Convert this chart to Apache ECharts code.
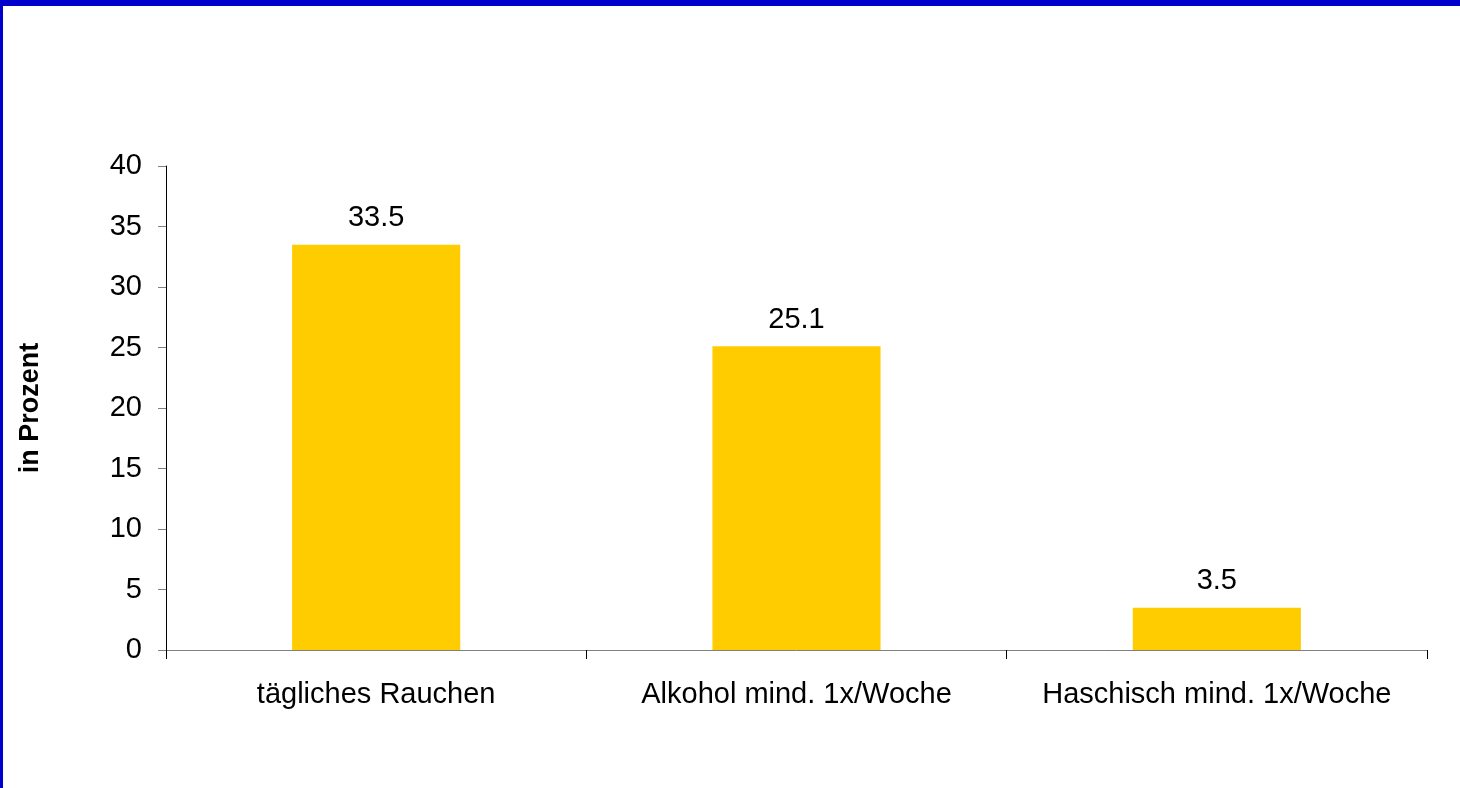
<!DOCTYPE html>
<html>
<head>
<meta charset="utf-8">
<title>Konsum in Prozent</title>
<script src="https://cdn.jsdelivr.net/npm/echarts@6/dist/echarts.min.js"></script>
<style>
  html, body { margin: 0; padding: 0; background: #ffffff; }
  #chart { width: 1460px; height: 788px; }
</style>
</head>
<body>
<div id="chart"></div>
<script>
// Categories and shares (in percent)
const categories = ['tägliches Rauchen', 'Alkohol mind. 1x/Woche', 'Haschisch mind. 1x/Woche'];
const values = [33.5, 25.1, 3.5];
const yTicks = { min: 0, max: 40, interval: 5 };
const yAxisTitle = 'in Prozent';

const font = 'Liberation Sans, Arial, sans-serif';
const chart = echarts.init(document.getElementById('chart'), null, { renderer: 'canvas' });

chart.setOption({
  backgroundColor: '#ffffff',
  animation: false,
  graphic: [
    { type: 'rect', left: 0, top: 0, shape: { width: 1460, height: 6 }, style: { fill: '#0000CC' } },
    { type: 'rect', left: 0, top: 0, shape: { width: 3, height: 788 }, style: { fill: '#0000CC' } }
  ],
  grid: { left: 166, right: 33, top: 166, bottom: 138, containLabel: false },
  xAxis: {
    type: 'category',
    data: categories,
    boundaryGap: true,
    axisLine: { show: true, lineStyle: { color: '#808080', width: 1 } },
    axisTick: { show: true, alignWithLabel: false, interval: 0, length: 9, inside: false, lineStyle: { color: '#000000' } },
    axisLabel: { color: '#000000', fontFamily: font, fontSize: 29, margin: 30, interval: 0 },
    splitLine: { show: false }
  },
  yAxis: {
    type: 'value',
    min: yTicks.min,
    max: yTicks.max,
    interval: yTicks.interval,
    name: yAxisTitle,
    nameLocation: 'middle',
    nameRotate: 90,
    nameGap: 122,
    nameTextStyle: { color: '#000000', fontFamily: font, fontSize: 27, fontWeight: 'bold' },
    axisLine: { show: true, lineStyle: { color: '#000000', width: 1 } },
    axisTick: { show: true, length: 8, lineStyle: { color: '#808080' } },
    axisLabel: { color: '#000000', fontFamily: font, fontSize: 29, margin: 24 },
    splitLine: { show: false }
  },
  series: [{
    type: 'bar',
    data: values,
    barWidth: '40%',
    itemStyle: { color: '#FFCC00' },
    label: {
      show: true,
      position: 'top',
      distance: 12,
      color: '#000000',
      fontFamily: font,
      fontSize: 29,
      formatter: p => p.value.toFixed(1)
    }
  }]
});
</script>
</body>
</html>
